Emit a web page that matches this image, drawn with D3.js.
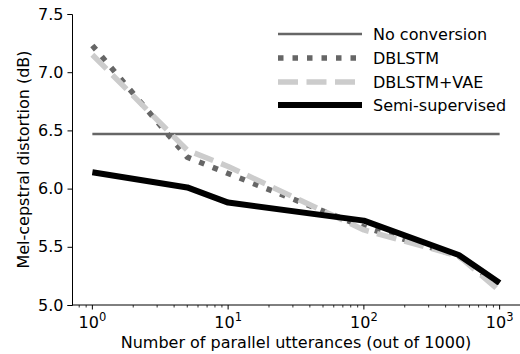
<!DOCTYPE html>
<html>
<head>
<meta charset="utf-8">
<script src="https://cdn.jsdelivr.net/npm/d3@7"></script>
<style>
  body { margin: 0; background: #fff; }
  text { font-family: "DejaVu Sans", sans-serif; fill: #000; }
</style>
</head>
<body>
<svg id="chart" width="520" height="354"></svg>
<script>
// values
const utterances = [1, 5, 10, 100, 500, 1000]
const noConversion = [6.47, 6.47, 6.47, 6.47, 6.47, 6.47]
const dblstm = [7.23, 6.27, 6.13, 5.67, 5.42, 5.16]
const dblstmVae = [7.15, 6.33, 6.19, 5.645, 5.42, 5.12]
const semiSupervised = [6.14, 6.01, 5.88, 5.725, 5.43, 5.19]
const yTicks = [5.0, 5.5, 6.0, 6.5, 7.0, 7.5]
const xTicks = [1, 10, 100, 1000]

const series = [
  {name: 'No conversion', values: noConversion, color: '#666666', width: 2.5, dash: null},
  {name: 'DBLSTM', values: dblstm, color: '#666666', width: 5.5, dash: '5.5,9'},
  {name: 'DBLSTM+VAE', values: dblstmVae, color: '#cccccc', width: 5.5, dash: '20,8.5'},
  {name: 'Semi-supervised', values: semiSupervised, color: '#000000', width: 6, dash: null}
]

const svg = d3.select('#chart')
const mLeft = 72, mRight = 520, mTop = 14, mBottom = 305

let x = d3.scaleLog()
  .domain([Math.pow(10, -0.15), Math.pow(10, 3.15)])
  .range([mLeft, mRight])
let y = d3.scaleLinear()
  .domain([5, 7.5])
  .range([mBottom, mTop])

// x axis, major + minor ticks
let minor = []
for (let e = -1; e < 4; e++) {
  for (let m = 2; m < 10; m++) {
    let v = m * Math.pow(10, e)
    if (v > x.domain()[0] && v < x.domain()[1]) minor.push(v)
  }
}
let xAxisG = svg.append('g').attr('transform', `translate(0,${mBottom})`)
xAxisG.append('line').attr('x1', mLeft).attr('x2', mRight).attr('stroke', '#000').attr('stroke-width', 1)
xAxisG.selectAll('.minor').data(minor).enter().append('line')
  .attr('x1', d => x(d)).attr('x2', d => x(d)).attr('y1', 0).attr('y2', 2.5)
  .attr('stroke', '#000').attr('stroke-width', 0.8)
xAxisG.selectAll('.major').data(xTicks).enter().append('line')
  .attr('x1', d => x(d)).attr('x2', d => x(d)).attr('y1', 0).attr('y2', 4.5)
  .attr('stroke', '#000').attr('stroke-width', 1)
let xl = xAxisG.selectAll('.lab').data(xTicks).enter().append('text')
  .attr('x', d => x(d)).attr('y', 23).attr('text-anchor', 'middle').style('font-size', '16px')
xl.append('tspan').text('10')
xl.append('tspan').attr('dy', -7).style('font-size', '11.5px').text(d => Math.round(Math.log10(d)))

// y axis
let yAxisgen = d3.axisLeft(y).tickValues(yTicks).tickFormat(d3.format('.1f')).tickSize(4.5).tickPadding(4)
let yAxis = svg.append('g').attr('transform', `translate(${mLeft},0)`).call(yAxisgen)
yAxis.select('.domain').attr('stroke-width', 1)
yAxis.selectAll('text').style('font-size', '16px').style('font-family', '"DejaVu Sans", sans-serif')

// axis labels
svg.append('text').attr('x', 296).attr('y', 348).attr('text-anchor', 'middle')
  .style('font-size', '16px').text('Number of parallel utterances (out of 1000)')
svg.append('text').attr('transform', `translate(29,${(mTop + mBottom) / 2}) rotate(-90)`)
  .attr('text-anchor', 'middle').style('font-size', '16px').text('Mel-cepstral distortion (dB)')

// lines
let lineGen = d3.line().x((d, i) => x(utterances[i])).y(d => y(d))
svg.selectAll('.series').data(series).enter().append('path')
  .attr('d', d => lineGen(d.values))
  .attr('fill', 'none')
  .attr('stroke', d => d.color)
  .attr('stroke-width', d => d.width)
  .attr('stroke-dasharray', d => d.dash)
  .attr('stroke-linejoin', 'round')

// legend
let legendY = [34, 58, 82, 105]
let legend = svg.selectAll('.legend').data(series).enter().append('g')
  .attr('transform', (d, i) => `translate(278,${legendY[i]})`)
legend.append('line').attr('x1', 0).attr('x2', 84)
  .attr('stroke', d => d.color).attr('stroke-width', d => d.width).attr('stroke-dasharray', d => d.dash)
legend.append('text').attr('x', 95).attr('y', 6).style('font-size', '16px').text(d => d.name)
</script>
</body>
</html>
